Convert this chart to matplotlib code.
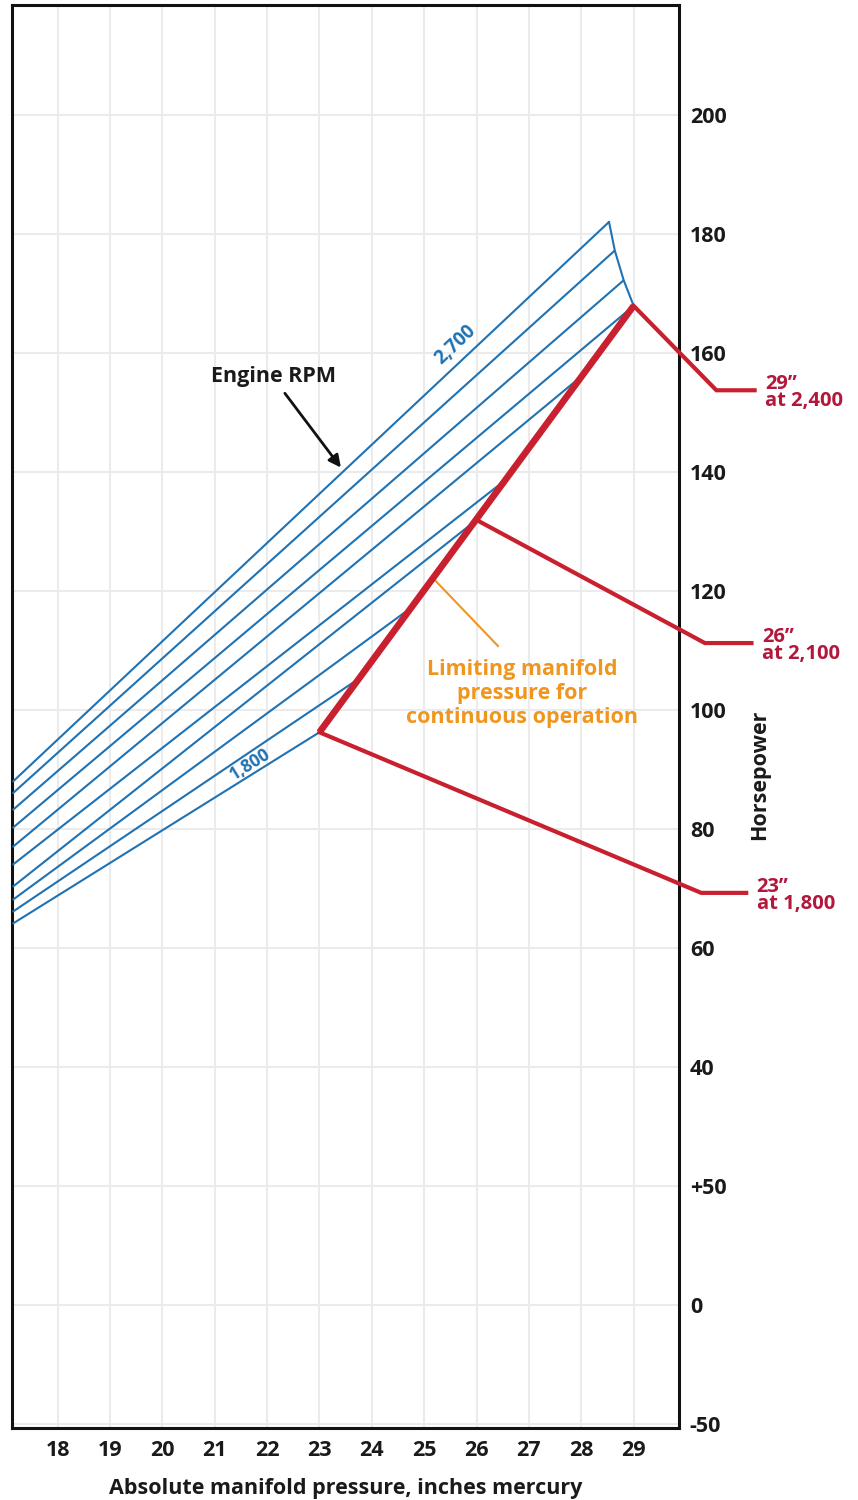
import matplotlib
matplotlib.use('Agg')
import matplotlib.pyplot as plt
import numpy as np

plt.rcParams['font.family'] = ['Open Sans', 'DejaVu Sans']

# ---------------- data ----------------
rpm_values = [2700, 2600, 2500, 2400, 2300, 2200, 2100, 2000, 1900, 1800]
rpm_start_x = 17.14
rpm_start_hp = [87.95, 86.0, 83.2, 80.2, 77.0, 74.0, 70.3, 68.1, 66.1, 64.1]
rpm_end_x = [28.53, 28.64, 28.81, 29.0, 28.01, 26.55, 26.0, 24.76, 23.75, 23.0]
rpm_end_hp = [182.1, 177.3, 172.3, 168.0, 156.2, 138.7, 132.0, 117.3, 105.3, 96.3]

limit_x = [23.0, 29.0]
limit_hp = [96.3, 168.0]

branch_labels = ['29\u201d\nat 2,400', '26\u201d\nat 2,100', '23\u201d\nat 1,800']
branch_x = [[29.0, 30.58, 31.31], [26.0, 30.36, 31.25], [23.0, 30.29, 31.15]]
branch_hp = [[168.0, 153.8, 153.8], [132.0, 111.3, 111.3], [96.3, 69.3, 69.3]]

x_ticks = list(range(18, 30))
y_ticks = [-20, 0, 20, 40, 60, 80, 100, 120, 140, 160, 180, 200]
y_tick_labels = ['-50', '0', '+50', '40', '60', '80', '100', '120', '140',
                 '160', '180', '200']

BLUE = '#1f72b3'
RED = '#c8202f'
LABEL_RED = '#b3173c'
ORANGE = '#f0961e'
INK = '#1a1a1a'

# ---------------- figure ----------------
fig = plt.figure(figsize=(8.58, 15.0), dpi=100)
ax = fig.add_axes([0.014, 0.048, 0.777, 0.949])
ax.set_xlim(17.13, 29.86)
ax.set_ylim(-20.67, 218.66)

ax.set_xticks(x_ticks)
ax.set_xticklabels([str(t) for t in x_ticks])
ax.set_yticks(y_ticks)
ax.set_yticklabels(y_tick_labels)
ax.yaxis.tick_right()
ax.tick_params(axis='both', length=0, labelsize=15.5, colors=INK)
ax.tick_params(axis='x', pad=9)
ax.tick_params(axis='y', pad=8)
for lab in ax.get_xticklabels() + ax.get_yticklabels():
    lab.set_fontweight('bold')

ax.grid(True, color='#ebebeb', linewidth=1.5)
ax.set_axisbelow(True)
for s in ax.spines.values():
    s.set_linewidth(2.2)
    s.set_color('#111111')

# RPM lines
for s_hp, ex, ehp in zip(rpm_start_hp, rpm_end_x, rpm_end_hp):
    ax.plot([rpm_start_x, ex], [s_hp, ehp], color=BLUE, lw=1.5,
            solid_capstyle='butt', zorder=3)
# boundary line joining upper ends
ax.plot(rpm_end_x[:4], rpm_end_hp[:4], color=BLUE, lw=1.5, zorder=3)

# limiting line
ax.plot(limit_x, limit_hp, color=RED, lw=4.8, solid_capstyle='butt', zorder=5)

# branches
for bx, bhp, lab in zip(branch_x, branch_hp, branch_labels):
    ax.plot(bx, bhp, color=RED, lw=3.0, clip_on=False, zorder=4,
            solid_joinstyle='miter')
    ax.text(bx[-1] + 0.2, bhp[-1] - 0.4, lab, color=LABEL_RED, fontsize=14.5,
            fontweight='bold', ha='left', va='center', linespacing=0.82,
            clip_on=False)

# line labels along lines
def angle_of(x0, y0, x1, y1):
    p0 = ax.transData.transform((x0, y0))
    p1 = ax.transData.transform((x1, y1))
    return np.degrees(np.arctan2(p1[1] - p0[1], p1[0] - p0[0]))

a_top = angle_of(rpm_start_x, rpm_start_hp[0], rpm_end_x[0], rpm_end_hp[0])
a_bot = angle_of(rpm_start_x, rpm_start_hp[-1], rpm_end_x[-1], rpm_end_hp[-1])
ax.text(25.6, 161.4, '2,700', color=BLUE, fontsize=13.5, fontweight='bold',
        rotation=a_top, ha='center', va='center', rotation_mode='anchor')
ax.text(21.67, 90.9, '1,800', color=BLUE, fontsize=12.5, fontweight='bold',
        rotation=a_bot, ha='center', va='center', rotation_mode='anchor')

# Engine RPM annotation
ax.annotate('', xy=(23.41, 140.8), xytext=(22.34, 153.3),
            arrowprops=dict(arrowstyle='-|>', color='#111111', lw=2,
                            mutation_scale=18, shrinkA=0, shrinkB=0))
ax.text(22.13, 156.1, 'Engine RPM', color=INK, fontsize=15.5,
        fontweight='bold', ha='center', va='center')

# Limiting manifold pressure annotation
ax.plot([25.17, 26.41], [122.2, 110.8], color=ORANGE, lw=1.5, zorder=4)
ax.text(26.87, 102.8, 'Limiting manifold\npressure for\ncontinuous operation',
        color=ORANGE, fontsize=15.5, fontweight='bold', ha='center', va='center',
        linespacing=1.2)

# axis labels
ax.text(0.5, -0.0425, 'Absolute manifold pressure, inches mercury',
        transform=ax.transAxes, fontsize=15.5, fontweight='bold',
        color=INK, ha='center', va='center')
fig.text(760 / 858, 1 - 775 / 1500, 'Horsepower', rotation=90, fontsize=15.5,
         fontweight='bold', color=INK, ha='center', va='center')

fig.savefig('out.png', dpi=100)
